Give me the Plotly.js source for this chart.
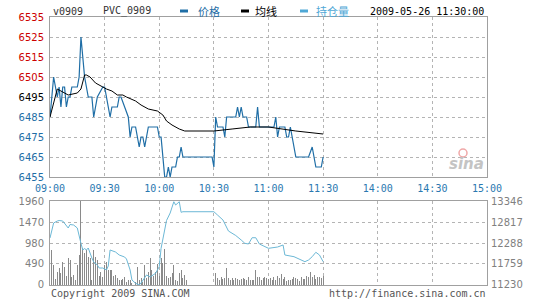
<!DOCTYPE html>
<html><head><meta charset="utf-8">
<script src="https://cdn.plot.ly/plotly-3.0.1.min.js"></script>
<style>html,body{margin:0;padding:0;background:#fff}#c{width:540px;height:300px}</style>
</head><body><div id="c"></div>
<script>
// ---- data ----
const timeTicks = [0,30,60,90,120,150,180,210,240];
const timeLabels = ['09:00','09:30','10:00','10:30','11:00','11:30','14:00','14:30','15:00'];
const priceTicks = [6455,6465,6475,6485,6495,6505,6515,6525,6535];
const pctLabels = ['-0.62%','-0.46%','-0.31%','-0.15%','0.00%','+0.15%','+0.31%','+0.46%','+0.62%'];
const volTicks = [0,490,980,1470,1960];
const oiTicks = [11230,11759,12288,12817,13346];
const oiLabels = ['11230','11759','12288','12817','13346'];

const priceMin = [0,2,4,5,6,7,8,9,10,11,12,15,16,17,19,21,23,24,26,29,30,33,34,37,38,39,43,44,45,47,48,49,50,51,52,53,54,59,60,61,62,63,64,65,66,67,69,70,71,72,73,89,90,91,92,95,96,97,102,103,104,105,106,108,109,113,114,115,123,124,125,126,129,130,131,132,133,135,142,144,146,149,150];
const priceVal = [6485,6505,6495,6500,6490,6500,6500,6490,6495,6495,6500,6500,6505,6525,6505,6495,6495,6485,6495,6500,6500,6485,6490,6490,6495,6495,6485,6475,6480,6480,6475,6470,6475,6475,6470,6475,6480,6480,6475,6475,6465,6455,6455,6460,6455,6460,6460,6465,6465,6470,6465,6465,6460,6485,6480,6480,6475,6485,6485,6490,6485,6490,6485,6485,6480,6480,6490,6480,6480,6485,6475,6480,6480,6475,6475,6480,6475,6465,6465,6470,6460,6460,6465];

const avgMin = [0,4,6,10,15,17,19,20,22,25,29,31,34,37,40,42,47,50,54,59,62,64,67,71,74,90,100,110,120,135,150];
const avgVal = [6485,6499,6498,6496,6497,6499,6506,6506,6505,6502,6500,6499,6498,6496,6496,6495,6493,6491,6489,6488,6486,6483,6481,6479,6478,6478,6479,6480,6480,6478,6476.5];

const volume = [0,820,470,150,310,390,270,545,430,200,620,580,180,235,120,470,700,2100,860,740,
 820,660,620,120,820,660,580,200,310,190,470,545,350,350,350,200,233,156,117,117,
 132,179,60,117,117,40,0,80,428,117,156,80,467,156,311,622,350,200,311,490,
 200,622,510,833,200,156,179,272,467,117,100,272,350,156,233,117,
 0,0,0,0,0,0,0,0,0,0,0,0,0,0,0,
 272,156,117,179,132,156,389,156,117,156,117,156,132,117,132,156,132,117,194,117,
 117,117,350,194,179,117,156,194,156,132,156,117,179,117,210,156,249,132,179,100,
 117,117,132,179,156,132,100,179,148,132,210,179,311,194,233,132,179,194,156,210];

const oiMin = [0,2,4,5,7,9,10,11,13,15,16,17,18,19,20,21,23,24,26,27,29,31,32,33,36,38,41,42,44,45,47,49,50,51,53,55,58,60,61,64,66,68,69,71,72,73,90,92,95,98,102,105,107,109,111,113,115,120,125,128,129,134,140,142,144,146,148,150];
const oiVal = [12414,12792,12842,12855,12842,12716,12666,12754,12741,12666,12447,12280,12112,12149,12112,12162,11910,11809,11734,11658,11658,11608,11709,12112,12061,11986,11935,11885,11608,11356,11273,11230,11280,11356,11482,11432,11525,11691,12154,12855,13044,13328,13245,13328,13061,13076,13076,12993,12867,12590,12477,12364,12280,12263,12421,12421,12263,12154,12187,12238,11986,11943,11817,11860,11943,12054,11986,11817];

// ---- styling ----
const BLUE = '#1f6ea6', RED = '#cc0000', LBLUE = '#6cb8d6', GRAY = '#808080';
const MONO = 'DejaVu Sans Mono', SANS = 'DejaVu Sans';
const volX = volume.map((v,i)=>i);

const priceText = priceTicks.map(p => {
  const c = p > 6495 ? RED : (p < 6495 ? BLUE : '#000');
  return '<span style="color:'+c+'">'+p+'</span>';
});
const pctText = pctLabels.map((s,i) => {
  const p = priceTicks[i];
  const c = p > 6495 ? RED : (p < 6495 ? BLUE : '#000');
  return '<span style="color:'+c+'">'+s+'</span>';
});

const traces = [
  {x: priceMin, y: priceVal, xaxis:'x', yaxis:'y', mode:'lines', line:{color:BLUE, width:1.2}, hoverinfo:'skip'},
  {x: avgMin, y: avgVal, xaxis:'x', yaxis:'y', mode:'lines', line:{color:'#000', width:1}, hoverinfo:'skip'},
  {x: volX, y: volume, xaxis:'x2', yaxis:'y3', type:'bar', width:0.55, marker:{color:'#8a8a8a', line:{width:0}}, hoverinfo:'skip'},
  {x: oiMin, y: oiVal, xaxis:'x2', yaxis:'y4', mode:'lines', line:{color:LBLUE, width:1}, hoverinfo:'skip'}
];

const grid = {showgrid:true, gridcolor:'#b4b4b4', griddash:'dot', gridwidth:1, zeroline:false,
  showline:true, mirror:true, linecolor:'#a0a0a0', linewidth:1, ticks:''};

function px(x){return (x-50)/437;}
function py(y){return (285-y)/268;}

const ann = [];
function txt(t, x, y, anchor, color, font, size){
  ann.push({text:t, x:px(x), y:py(y), xref:'paper', yref:'paper', xanchor:anchor, yanchor:'middle',
    showarrow:false, font:{family:font, size:size, color:color}});
}
txt('v0909', 51, 11, 'left', '#333', MONO, 10);
txt('PVC_0909', 101, 11, 'left', '#333', MONO, 10);
txt('价格', 196, 11, 'left', BLUE, 'Noto Sans CJK SC', 11);
txt('均线', 253, 11, 'left', '#000', 'Noto Sans CJK SC', 11);
txt('持仓量', 314, 11, 'left', '#4fa8d6', 'Noto Sans CJK SC', 11);
txt('2009-05-26 11:30:00', 486, 11, 'right', '#000', MONO, 10);
txt('Copyright 2009 SINA.COM', 49, 293, 'left', '#555', MONO, 10);
txt('http://finance.sina.com.cn', 488, 293, 'right', '#555', MONO, 10);
txt('<i><b>sina</b></i>', 466, 164, 'center', '#c4c4c4', SANS, 15);

const shapes = [
  {type:'line', xref:'paper', yref:'paper', x0:px(180), x1:px(188), y0:py(11), y1:py(11), line:{color:BLUE, width:3}},
  {type:'line', xref:'paper', yref:'paper', x0:px(241), x1:px(249), y0:py(11), y1:py(11), line:{color:'#000', width:3}},
  {type:'line', xref:'paper', yref:'paper', x0:px(300), x1:px(308), y0:py(11), y1:py(11), line:{color:'#4fa8d6', width:3}},
  {type:'circle', xref:'paper', yref:'paper', x0:px(459), x1:px(467), y0:py(157), y1:py(149), line:{color:'#f0a8a8', width:1.5}}
];

const layout = {
  width:540, height:300, margin:{l:50, r:53, t:17, b:15, pad:0},
  paper_bgcolor:'#fff', plot_bgcolor:'#fff', showlegend:false, bargap:0,
  font:{family:SANS, size:10},
  xaxis: Object.assign({}, grid, {domain:[0,1], anchor:'y', range:[0,240], tickvals:timeTicks, ticktext:timeLabels,
    tickfont:{family:MONO, size:10, color:'#2a78b0'}, ticklabelstandoff:2}),
  yaxis: Object.assign({}, grid, {domain:[0.403,1], anchor:'x', range:[6455,6535], tickvals:priceTicks, ticktext:priceText,
    tickfont:{family:SANS, size:10}, ticklabelstandoff:3}),
  yaxis2: {overlaying:'y', side:'right', anchor:'x', range:[6455,6535], tickvals:priceTicks, ticktext:pctText,
    showgrid:false, zeroline:false, showline:false, ticks:'', tickfont:{family:MONO, size:10}, ticklabelstandoff:3},
  xaxis2: Object.assign({}, grid, {domain:[0,1], anchor:'y3', range:[0,240], tickvals:timeTicks, showticklabels:false}),
  yaxis3: Object.assign({}, grid, {domain:[0,0.3134], anchor:'x2', range:[0,1960], tickvals:volTicks,
    tickfont:{family:SANS, size:10, color:GRAY}, ticklabelstandoff:3}),
  yaxis4: {overlaying:'y3', side:'right', anchor:'x2', range:[11230,13346], tickvals:oiTicks, ticktext:oiLabels,
    showgrid:false, zeroline:false, showline:false, ticks:'', tickfont:{family:SANS, size:10, color:GRAY}, ticklabelstandoff:3},
  annotations: ann, shapes: shapes
};

Plotly.newPlot('c', traces, layout, {staticPlot:true, displayModeBar:false});
</script></body></html>
